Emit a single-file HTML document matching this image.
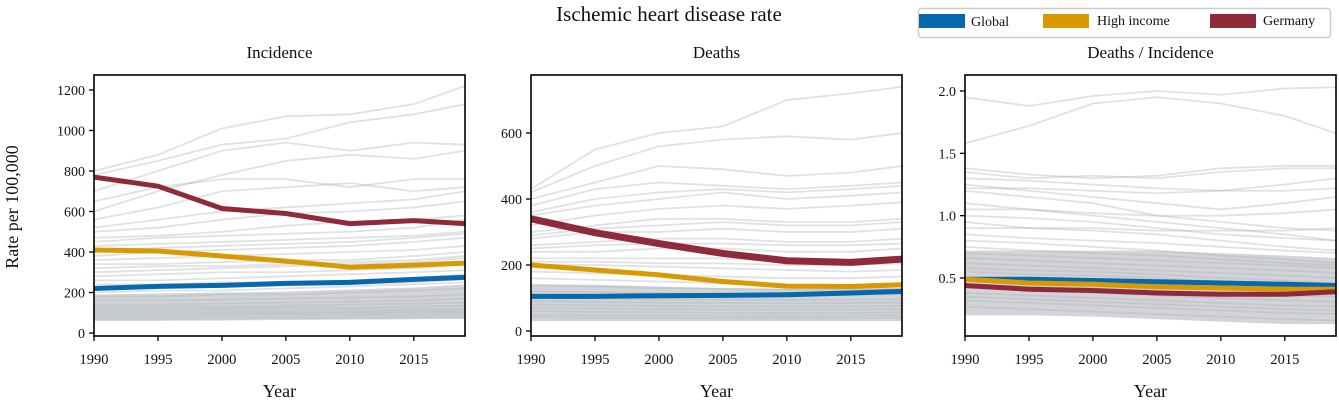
<!DOCTYPE html>
<html><head><meta charset="utf-8"><style>
body{margin:0;background:#fff;}
svg text{font-family:"Liberation Serif","DejaVu Serif",serif;fill:#111;}
</style></head><body>
<svg id="chart" width="1339" height="405" viewBox="0 0 1339 405" xmlns="http://www.w3.org/2000/svg">
<text x="669" y="21" font-size="21" text-anchor="middle">Ischemic heart disease rate</text>
<g>
<rect x="918.5" y="8.5" width="412" height="29" rx="3" fill="#fff" stroke="#ccc" stroke-width="1.5"/>
<g><rect x="919" y="14" width="46" height="14" fill="#0868ac"/><text x="971" y="26" font-size="14">Global</text></g>
<g><rect x="1043" y="14" width="46" height="14" fill="#d89a00"/><text x="1097" y="25" font-size="14">High income</text></g>
<g><rect x="1210" y="14" width="46" height="14" fill="#8f2a3a"/><text x="1263" y="25" font-size="14">Germany</text></g>
</g>
</svg>
<script>
const years=[1990,1995,2000,2005,2010,2015,2019];
const incGermany=[770,725,615,590,540,555,540];
const incHigh=[410,405,380,355,325,335,345];
const incGlobal=[220,230,235,245,250,265,275];
const dthGermany=[340,298,265,235,213,208,218];
const dthHigh=[200,185,170,150,136,135,140];
const dthGlobal=[105,105,107,108,110,115,120];
const ratGermany=[0.44,0.41,0.40,0.38,0.37,0.37,0.39];
const ratHigh=[0.49,0.46,0.45,0.43,0.42,0.41,0.41];
const ratGlobal=[0.49,0.49,0.48,0.47,0.46,0.45,0.44];
const incBandLow=[60,60,62,64,66,68,70];
const incBandHigh=[190,195,200,205,215,225,240];
const dthBandLow=[30,30,30,30,30,30,30];
const dthBandHigh=[140,140,135,130,128,128,130];
const ratBandLow=[0.2,0.2,0.19,0.17,0.15,0.13,0.13];
const ratBandHigh=[0.72,0.72,0.72,0.72,0.7,0.68,0.66];
const incGray=[[800,880,1010,1070,1080,1130,1220],[780,850,930,960,1040,1080,1130],[700,800,900,940,900,940,930],[600,700,780,850,880,860,900],[650,720,760,760,720,760,760],[560,620,700,720,740,700,720],[520,560,600,620,640,660,700],[500,520,560,590,600,620,650],[470,480,500,530,550,560,580],[450,470,480,490,500,520,560],[430,440,450,460,470,480,500],[400,420,430,440,450,470,490],[380,400,410,420,430,450,470],[360,370,380,390,400,410,430],[340,340,350,360,360,380,400],[320,330,330,340,350,360,380],[300,310,320,330,340,350,370],[280,290,300,300,310,320,340],[260,260,270,280,290,300,310],[240,240,250,250,260,270,290],[220,225,230,235,240,250,265],[200,210,210,220,230,240,250],[180,180,190,190,200,210,220],[160,160,165,170,175,180,190],[140,140,145,150,155,160,170],[130,130,130,135,140,145,150],[120,120,120,125,125,130,135],[110,110,110,112,115,118,120],[100,100,100,102,105,108,110],[90,90,92,95,97,100,102],[80,80,82,85,87,90,92],[70,70,72,74,76,78,80]];
const dthGray=[[430,550,600,620,700,720,740],[420,500,560,580,590,580,600],[400,450,500,490,470,480,500],[380,430,450,440,430,440,450],[360,400,420,430,420,430,440],[350,380,400,420,400,410,420],[320,350,370,380,370,380,390],[300,320,340,340,330,330,340],[290,310,320,330,320,320,330],[280,300,300,310,300,300,310],[260,270,280,280,270,270,280],[250,260,265,265,260,260,265],[240,240,250,250,240,240,250],[220,220,220,220,210,210,220],[210,210,205,205,200,200,205],[200,200,195,190,185,180,185],[180,175,170,165,160,160,165],[160,155,150,145,140,140,145],[140,135,130,128,125,125,128],[120,118,115,112,110,110,112],[100,98,96,95,94,95,96],[90,88,86,85,84,85,86],[80,78,76,75,74,75,76],[70,68,66,65,64,65,66],[60,58,56,55,54,55,56],[50,48,47,46,45,46,47],[42,41,40,39,38,39,40]];
const ratGray=[[1.95,1.88,1.96,2.0,1.97,2.02,2.03],[1.58,1.72,1.9,1.95,1.9,1.8,1.66],[1.38,1.33,1.3,1.32,1.38,1.4,1.4],[1.35,1.3,1.32,1.3,1.35,1.38,1.38],[1.3,1.28,1.25,1.22,1.2,1.25,1.3],[1.25,1.2,1.15,1.1,1.05,1.1,1.15],[1.22,1.22,1.2,1.18,1.2,1.2,1.22],[1.2,1.15,1.1,1.0,0.95,0.9,0.88],[1.1,1.05,1.0,0.95,0.9,0.85,0.8],[1.05,1.05,1.02,1.0,1.0,1.02,1.05],[1.0,0.98,0.95,0.9,0.85,0.82,0.8],[0.95,0.9,0.88,0.85,0.8,0.75,0.72],[0.9,0.9,0.9,0.88,0.88,0.88,0.9],[0.85,0.82,0.8,0.78,0.75,0.72,0.7],[0.8,0.78,0.75,0.72,0.68,0.65,0.62],[0.75,0.72,0.7,0.68,0.65,0.62,0.6],[0.7,0.68,0.66,0.64,0.62,0.6,0.58],[0.66,0.64,0.62,0.6,0.58,0.56,0.54],[0.62,0.6,0.58,0.56,0.54,0.52,0.5],[0.58,0.56,0.55,0.53,0.5,0.48,0.46],[0.55,0.53,0.52,0.5,0.47,0.45,0.43],[0.5,0.48,0.47,0.45,0.43,0.41,0.4],[0.45,0.43,0.42,0.4,0.38,0.36,0.35],[0.42,0.4,0.38,0.36,0.34,0.32,0.31],[0.38,0.36,0.34,0.32,0.3,0.28,0.27],[0.35,0.33,0.31,0.29,0.27,0.25,0.24],[0.32,0.3,0.28,0.26,0.24,0.22,0.21],[0.27,0.25,0.23,0.21,0.19,0.17,0.16]];
const incTicks=[0,200,400,600,800,1000,1200];
const dthTicks=[0,200,400,600];
const ratTicks=[0.5,1.0,1.5,2.0];
const xTicks=[1990,1995,2000,2005,2010,2015];

const svg=document.getElementById('chart');
const NS='http://www.w3.org/2000/svg';
function mk(tag,attrs,parent){const e=document.createElementNS(NS,tag);for(const k in attrs)e.setAttribute(k,attrs[k]);(parent||svg).appendChild(e);return e;}
const panels=[
 {name:'incidence',title:'Incidence',x0:94,x1:465,yTop:75,yBot:336,v0:0,p0:333,v1:1200,p1:90,ticks:incTicks,fmt:v=>String(v),gray:incGray,band:[incBandLow,incBandHigh],main:[incGlobal,incHigh,incGermany],w:[5,5,5],ylab:true},
 {name:'deaths',title:'Deaths',x0:531,x1:902,yTop:75,yBot:336,v0:0,p0:331,v1:600,p1:133,ticks:dthTicks,fmt:v=>String(v),gray:dthGray,band:[dthBandLow,dthBandHigh],main:[dthGlobal,dthHigh,dthGermany],w:[5,5,7]},
 {name:'ratio',title:'Deaths / Incidence',x0:965,x1:1336,yTop:75,yBot:336,v0:0.5,p0:278,v1:2.0,p1:91,ticks:ratTicks,fmt:v=>v.toFixed(1),gray:ratGray,band:[ratBandLow,ratBandHigh],main:[ratGlobal,ratHigh,ratGermany],w:[5,5,5]}
];
const colors=['#0868ac','#d89a00','#8f2a3a'];
const names=['global','high-income','germany'];
panels.forEach(p=>{
 const g=mk('g',{});
 
 
 const xs=y=>p.x0+(y-1990)*(p.x1-p.x0)/29;
 const ys=v=>p.p0+(v-p.v0)*(p.p1-p.p0)/(p.v1-p.v0);
 const clip=mk('clipPath',{id:'clip-'+p.name},g);
 mk('rect',{x:p.x0,y:p.yTop,width:p.x1-p.x0,height:p.yBot-p.yTop},clip);
 const plot=mk('g',{'clip-path':'url(#clip-'+p.name+')'},g);
 const lo=p.band[0],hi=p.band[1];
 const pts=hi.map((v,i)=>xs(years[i])+','+ys(v)).concat(lo.map((v,i)=>xs(years[i])+','+ys(v)).reverse());
 const band=mk('polygon',{points:pts.join(' '),fill:'#b4b8bc','fill-opacity':0.6},plot);
 
 
 p.gray.forEach(arr=>{
  const l=mk('polyline',{points:arr.map((v,i)=>xs(years[i])+','+ys(v)).join(' '),fill:'none',stroke:'#b0b4b8','stroke-opacity':0.4,'stroke-width':1.8},plot);
  
  
 });
 p.main.forEach((arr,k)=>{
  const l=mk('polyline',{points:arr.map((v,i)=>xs(years[i])+','+ys(v)).join(' '),fill:'none',stroke:colors[k],'stroke-width':p.w[k],'stroke-linejoin':'round'},plot);
  
  
 });
 const fr=mk('rect',{x:p.x0,y:p.yTop,width:p.x1-p.x0,height:p.yBot-p.yTop,fill:'none',stroke:'#000','stroke-width':1.6},g);
 
 
 p.ticks.forEach(v=>{
  const y=ys(v);
  mk('line',{x1:p.x0-5,x2:p.x0,y1:y,y2:y,stroke:'#000','stroke-width':1.3},g);
  const t=mk('text',{x:p.x0-9,y:y+5,'font-size':14,'text-anchor':'end'},g);
  t.textContent=p.fmt(v);
  
  
 });
 xTicks.forEach(yr=>{
  const x=xs(yr);
  mk('line',{x1:x,x2:x,y1:p.yBot,y2:p.yBot+5,stroke:'#000','stroke-width':1.3},g);
  const t=mk('text',{x:x,y:p.yBot+28,'font-size':14.5,'text-anchor':'middle'},g);
  t.textContent=yr;
  
  
 });
 const tt=mk('text',{x:(p.x0+p.x1)/2,y:58,'font-size':17,'text-anchor':'middle'},g);
 tt.textContent=p.title;
 
 
 const xl=mk('text',{x:(p.x0+p.x1)/2,y:397,'font-size':18,'text-anchor':'middle'},g);
 xl.textContent='Year';
 
 
 if(p.ylab){
  const yl=mk('text',{x:0,y:0,'font-size':18,'text-anchor':'middle',transform:'translate(18,207) rotate(-90)'},g);
  yl.textContent='Rate per 100,000';
  
  
 }
});
</script>
</body></html>
